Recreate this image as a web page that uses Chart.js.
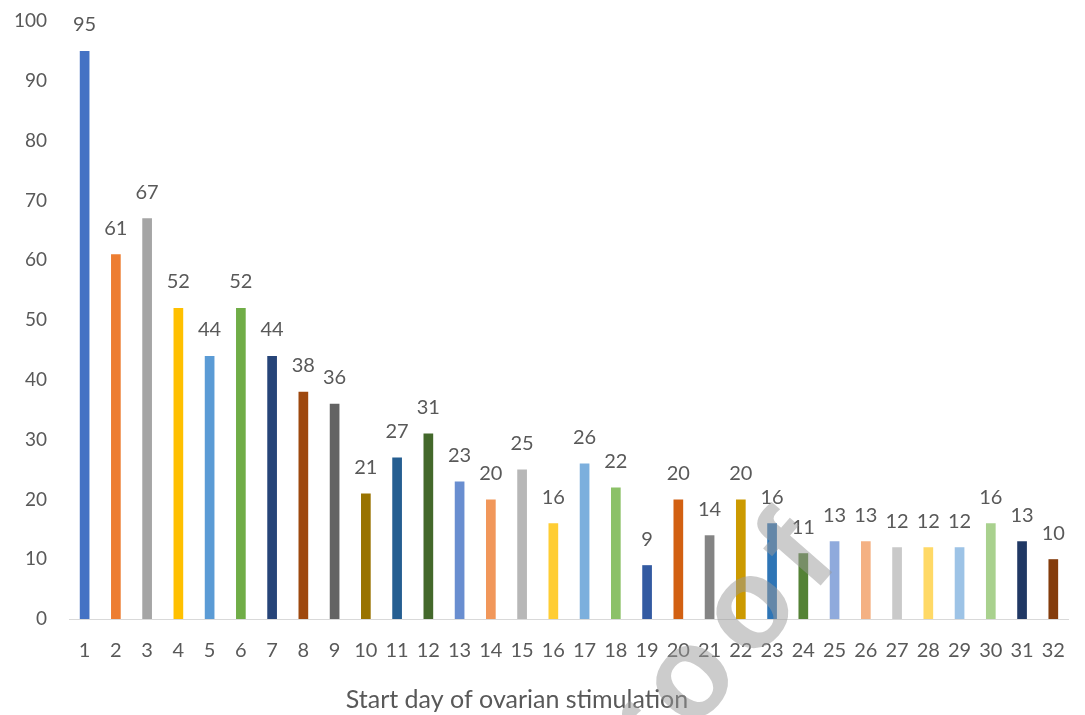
<!DOCTYPE html>
<html>
<head>
<meta charset="utf-8">
<script src="https://cdn.jsdelivr.net/npm/chart.js@4/dist/chart.umd.min.js"></script>
<style>
  html, body { margin: 0; padding: 0; background: #fff; }
  #wrap { width: 1085px; height: 715px; position: relative; }
</style>
</head>
<body>
<div id="wrap"><canvas id="chart"></canvas></div>
<script>
// Dados do gráfico
const days = ['1','2','3','4','5','6','7','8','9','10','11','12','13','14','15','16',
              '17','18','19','20','21','22','23','24','25','26','27','28','29','30','31','32'];
const counts = [95, 61, 67, 52, 44, 52, 44, 38, 36, 21, 27, 31, 23, 20, 25, 16,
                26, 22, 9, 20, 14, 20, 16, 11, 13, 13, 12, 12, 12, 16, 13, 10];
const barColors = ['#4472C4','#ED7D31','#A5A5A5','#FFC000','#5B9BD5','#70AD47',
                   '#264478','#9E480E','#636363','#997300','#255E91','#43682B',
                   '#698ED0','#F1975A','#B7B7B7','#FFCD33','#7CAFDD','#8CC168',
                   '#335AA1','#D26012','#848484','#CC9A00','#2E75B6','#548235',
                   '#8FAADC','#F4B183','#C9C9C9','#FFD966','#9DC3E6','#A9D18E',
                   '#203864','#843C0C'];
const xTitle = 'Start day of ovarian stimulation';
const watermark = 'Proof';

const textColor = '#595959';
const fontFamily = 'Lato, "Open Sans", sans-serif';

// Rótulos de valor acima das barras
const valueLabels = {
    id: 'valueLabels',
    afterDatasetsDraw(chart) {
        const ctx = chart.ctx;
        const meta = chart.getDatasetMeta(0);
        ctx.save();
        ctx.fillStyle = textColor;
        ctx.font = '20px ' + fontFamily;
        ctx.textAlign = 'center';
        ctx.textBaseline = 'middle';
        meta.data.forEach((bar, i) => {
            ctx.fillText(counts[i], bar.x, bar.y - 26);
        });
        ctx.restore();
    }
};

// Título do eixo x e marca d'água
const extras = {
    id: 'extras',
    afterDraw(chart) {
        const ctx = chart.ctx;
        ctx.save();
        ctx.fillStyle = textColor;
        ctx.font = '25px ' + fontFamily;
        ctx.textAlign = 'center';
        ctx.textBaseline = 'middle';
        ctx.fillText(xTitle, 517, 700);
        ctx.restore();

        // marca d'água: centro do primeiro "o" em (697, 677)
        ctx.save();
        ctx.font = 'bold 128px "Liberation Sans", Arial, sans-serif';
        ctx.letterSpacing = '14px';
        ctx.translate(697, 677);
        ctx.rotate(-49 * Math.PI / 180);
        const before = ctx.measureText('Pr').width;
        const oHalf = ctx.measureText('o').width / 2;
        ctx.globalAlpha = 0.5;
        ctx.fillStyle = '#999999';
        ctx.textAlign = 'left';
        ctx.textBaseline = 'alphabetic';
        ctx.fillText(watermark, -(before + oHalf), 128 * 0.26);
        ctx.restore();
    }
};

const ctx = document.getElementById('chart').getContext('2d');
new Chart(ctx, {
    type: 'bar',
    data: {
        labels: days,
        datasets: [{
            data: counts,
            backgroundColor: barColors,
            borderWidth: 0,
            barPercentage: 0.31,
            categoryPercentage: 1.0
        }]
    },
    options: {
        responsive: true,
        maintainAspectRatio: false,
        animation: false,
        layout: { padding: { top: 21, right: 6, left: 0, bottom: 0 } },
        plugins: {
            legend: { display: false },
            tooltip: { enabled: false }
        },
        scales: {
            x: {
                grid: { display: false, drawTicks: false },
                border: { display: true, color: '#d9d9d9', width: 1 },
                ticks: { color: textColor, font: { size: 20, family: fontFamily }, padding: 20, maxRotation: 0, autoSkip: false },
                afterFit(scale) { scale.height = 96; }
            },
            y: {
                min: 0,
                max: 100,
                grid: { display: false, drawTicks: false },
                border: { display: false },
                ticks: { stepSize: 10, color: textColor, font: { size: 19, family: fontFamily }, padding: 22 },
                afterFit(scale) {
                    scale.width = 69;
                    scale.paddingTop = 0;
                    scale.paddingBottom = 0;
                }
            }
        }
    },
    plugins: [valueLabels, extras]
});
</script>
</body>
</html>
